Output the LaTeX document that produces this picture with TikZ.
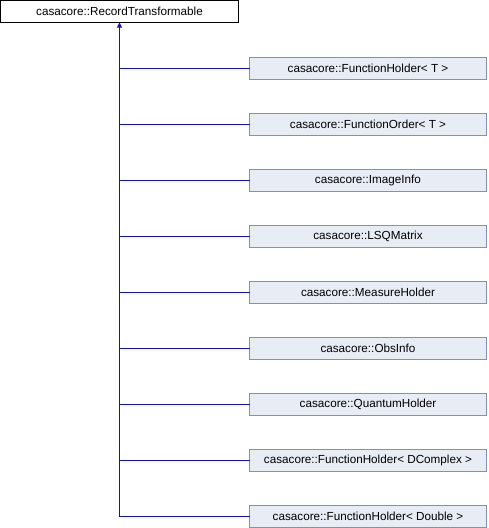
\documentclass[tikz,border=0pt]{standalone}
\usepackage{fontspec}
\setmainfont{Liberation Sans}
\usetikzlibrary{arrows.meta}
\definecolor{edgeblue}{RGB}{20,20,170}
\definecolor{boxfill}{HTML}{E8ECF4}
\definecolor{boxline}{HTML}{8090B8}
\tikzset{
  basebox/.style={draw=black, fill=white, line width=1pt, minimum width=238pt, minimum height=22pt, inner sep=0pt, outer sep=0pt, font=\fontsize{11.7pt}{13pt}\selectfont},
  childbox/.style={draw=boxline, fill=boxfill, line width=1pt, minimum width=237pt, minimum height=22pt, inner sep=0pt, outer sep=0pt, font=\fontsize{11.7pt}{13pt}\selectfont},
  link/.style={draw=edgeblue, line width=1pt},
}
\begin{document}
\begin{tikzpicture}[x=1pt,y=-1pt]
\useasboundingbox (0,0) rectangle (488,528);
\node[basebox] (top) at (119.5,11.5) {casacore::RecordTransformable};
\node[childbox] (c1) at (368,68.5) {casacore::FunctionHolder< T >};
\node[childbox] (c2) at (368,124.5) {casacore::FunctionOrder< T >};
\node[childbox] (c3) at (368,180.5) {casacore::ImageInfo};
\node[childbox] (c4) at (368,236.5) {casacore::LSQMatrix};
\node[childbox] (c5) at (368,292.5) {casacore::MeasureHolder};
\node[childbox] (c6) at (368,348.5) {casacore::ObsInfo};
\node[childbox] (c7) at (368,404.5) {casacore::QuantumHolder};
\node[childbox] (c8) at (368,460.5) {casacore::FunctionHolder< DComplex >};
\node[childbox] (c9) at (368,516.5) {casacore::FunctionHolder< Double >};
\coordinate (trunk) at (top.south |- c9.west);
\draw[link] (c1.west) -- (c1.west -| trunk);
\draw[link] (c2.west) -- (c2.west -| trunk);
\draw[link] (c3.west) -- (c3.west -| trunk);
\draw[link] (c4.west) -- (c4.west -| trunk);
\draw[link] (c5.west) -- (c5.west -| trunk);
\draw[link] (c6.west) -- (c6.west -| trunk);
\draw[link] (c7.west) -- (c7.west -| trunk);
\draw[link] (c8.west) -- (c8.west -| trunk);
\draw[link] (c9.west) -- (trunk);
\draw[link, fill=edgeblue, -{Triangle[length=5pt,width=5pt]}] (trunk) -- (top.south);
\end{tikzpicture}
\end{document}
